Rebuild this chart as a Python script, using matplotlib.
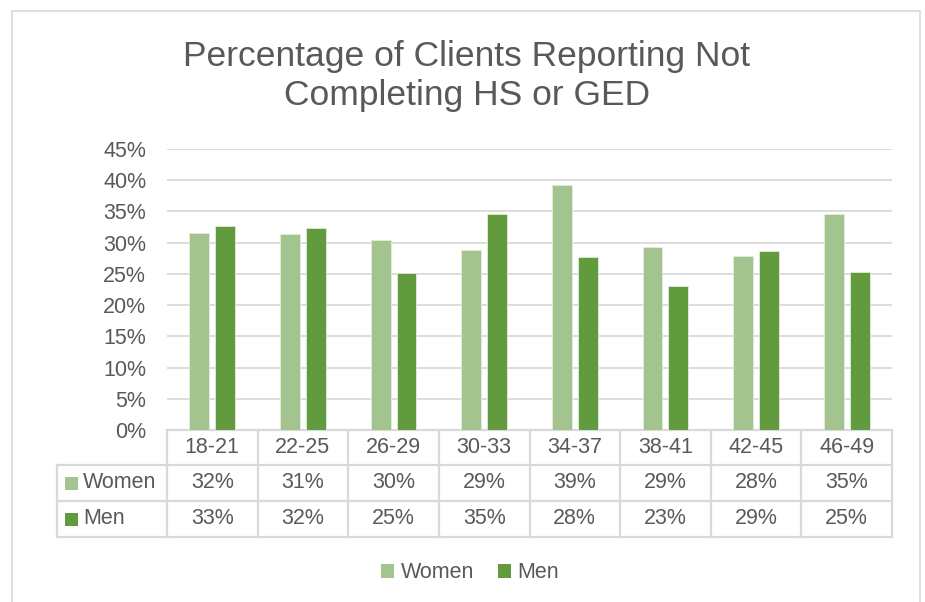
import matplotlib.pyplot as plt
from matplotlib.patches import Patch, Rectangle
import numpy as np

# data
age_groups = ["18-21", "22-25", "26-29", "30-33", "34-37", "38-41", "42-45", "46-49"]
women = [31.6, 31.4, 30.4, 28.8, 39.2, 29.3, 27.8, 34.6]
men = [32.7, 32.4, 25.2, 34.6, 27.7, 23.0, 28.7, 25.3]

women_color = "#A3C48F"
men_color = "#629A3E"
text_color = "#595959"
line_color = "#D9D9D9"
fs = 15.5

plt.rcParams['font.family'] = ['Liberation Sans', 'DejaVu Sans']

W, H = 925, 602
fig = plt.figure(figsize=(W / 100, H / 100), dpi=100)

# outer chart border
fig.patches.append(Rectangle((12 / W, -0.01), (920 - 12) / W, 1 - 11 / H + 0.01,
                             transform=fig.transFigure, fill=False,
                             edgecolor=line_color, linewidth=1.2))

ax = fig.add_axes([167 / W, 1 - 430 / H, (892 - 167) / W, (430 - 149) / H])

x = np.arange(len(age_groups))
bw = 0.22
off = 0.143
ax.bar(x - off, women, bw, color=women_color, edgecolor="#E2EDDA", linewidth=0.6, zorder=3)
ax.bar(x + off, men, bw, color=men_color, edgecolor="#E2EDDA", linewidth=0.6, zorder=3)

ax.set_xlim(-0.5, len(age_groups) - 0.5)
ax.set_ylim(0, 45)
ax.set_yticks(np.arange(0, 46, 5))
ax.set_yticklabels([f"{v}%" for v in range(0, 46, 5)], fontsize=fs, color=text_color)
ax.tick_params(axis='y', length=0, pad=15)
ax.set_xticks([])
ax.grid(axis='y', color=line_color, linewidth=1.3, zorder=0)
for s in ax.spines.values():
    s.set_visible(False)

# data table under the plot
tr = ax.get_xaxis_transform()
px = 1 / (430 - 149)  # one pixel in axes fraction
row_y = [0, -35 * px, -71 * px, -107 * px]
left = -0.5 - 110 / 90.6
right = len(age_groups) - 0.5
lw = 1.6

ax.plot([-0.5, right], [row_y[0]] * 2, transform=tr, color=line_color, lw=lw, clip_on=False)
for yy in row_y[1:]:
    ax.plot([left, right], [yy] * 2, transform=tr, color=line_color, lw=lw, clip_on=False)
ax.plot([left, left], [row_y[1], row_y[3]], transform=tr, color=line_color, lw=lw, clip_on=False)
for b in np.arange(-0.5, right + 0.01, 1.0):
    ax.plot([b, b], [row_y[0], row_y[3]], transform=tr, color=line_color, lw=lw, clip_on=False)

for i, name in enumerate(age_groups):
    ax.text(i, (row_y[0] + row_y[1]) / 2, name, transform=tr, ha='center', va='center',
            fontsize=fs, color=text_color)
    ax.text(i, (row_y[1] + row_y[2]) / 2, f"{round(women[i])}%", transform=tr,
            ha='center', va='center', fontsize=fs, color=text_color)
    ax.text(i, (row_y[2] + row_y[3]) / 2, f"{round(men[i])}%", transform=tr,
            ha='center', va='center', fontsize=fs, color=text_color)

key = 13 / 90.6
for r, (lab, col) in enumerate([("Women", women_color), ("Men", men_color)]):
    yc = (row_y[r + 1] + row_y[r + 2]) / 2
    ax.add_patch(Rectangle((left + 8 / 90.6, yc - 6.5 * px), key, 13 * px, transform=tr,
                           facecolor=col, edgecolor='none', clip_on=False))
    ax.text(left + 26 / 90.6, yc, lab, transform=tr, ha='left', va='center',
            fontsize=fs, color=text_color)

fig.text(467 / W, 1 - 76 / H, "Percentage of Clients Reporting Not\nCompleting HS or GED",
         ha='center', va='center', fontsize=25.5, color=text_color, linespacing=1.2)

handles = [Patch(facecolor=women_color, label="Women"), Patch(facecolor=men_color, label="Men")]
fig.legend(handles=handles, loc='center', bbox_to_anchor=(470 / W, 1 - 573 / H), ncol=2,
           frameon=False, fontsize=fs, handlelength=0.6, handleheight=0.6,
           handletextpad=0.3, columnspacing=1.1, labelcolor=text_color)

fig.savefig("out.png", dpi=100)
